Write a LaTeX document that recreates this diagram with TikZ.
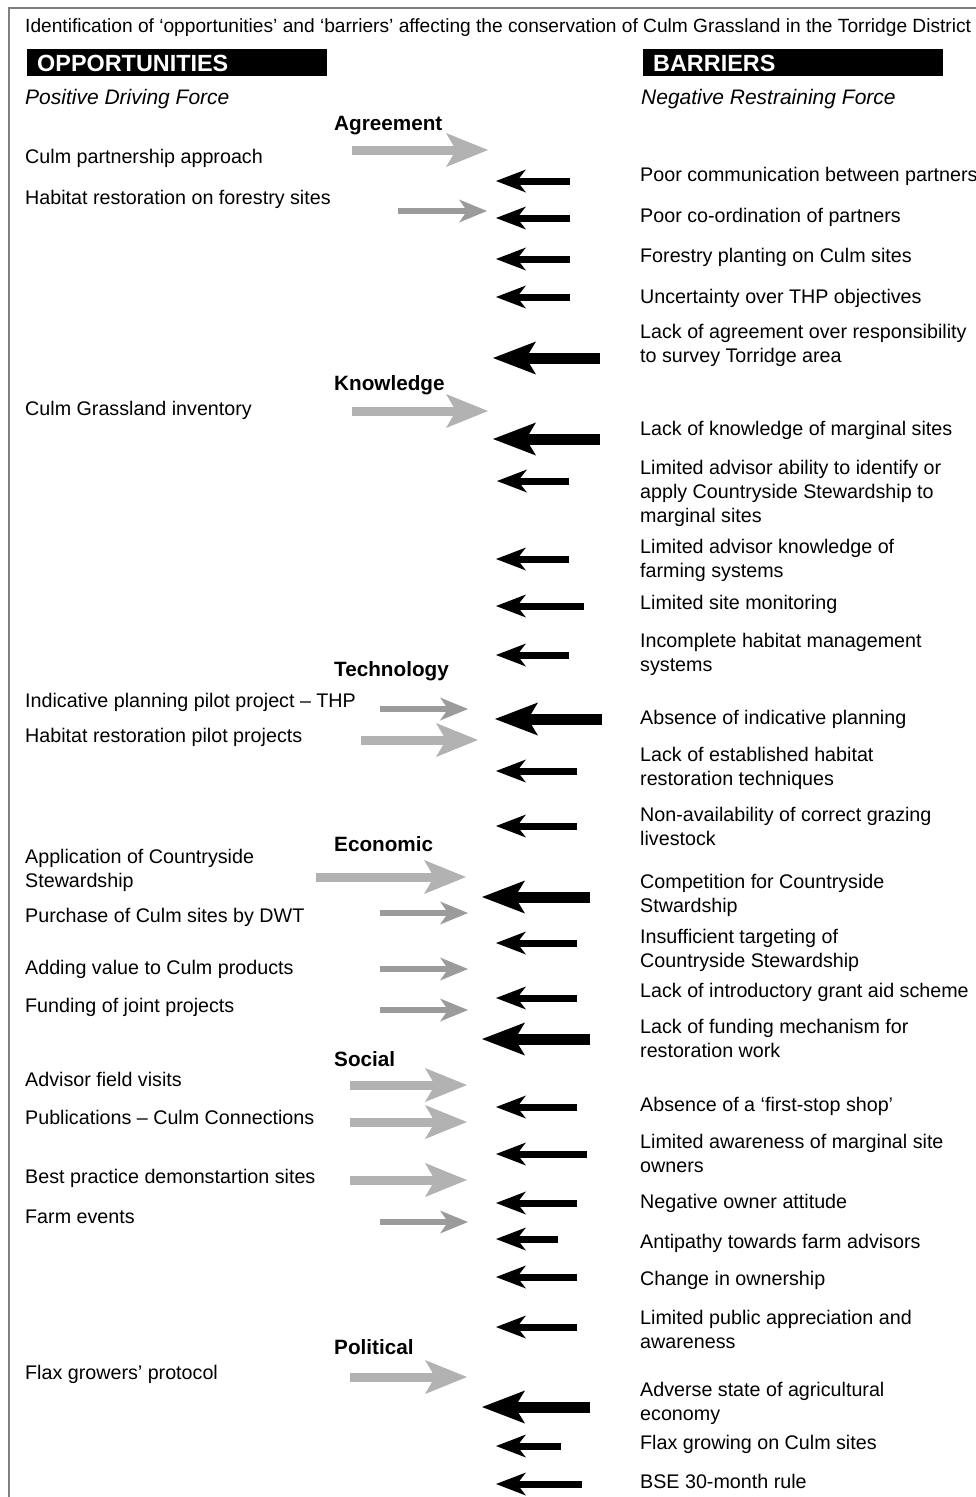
\documentclass[tikz,border=0pt]{standalone}
\usepackage{fontspec}
\setmainfont{Liberation Sans}
\usetikzlibrary{arrows.meta}
\definecolor{framegrey}{RGB}{128,128,128}
\definecolor{forcelight}{RGB}{178,178,178}
\definecolor{forcemid}{RGB}{155,155,155}
\newcommand{\bodysize}{\fontsize{19.7}{24}\selectfont}
\newcommand{\titlesize}{\fontsize{19.15}{24}\selectfont}
\newcommand{\catsize}{\fontsize{20.7}{24}\selectfont\bfseries}
\newcommand{\headsize}{\fontsize{23.4}{26}\selectfont\bfseries}
\newcommand{\subsize}{\fontsize{21}{24}\selectfont\itshape}
\begin{document}
\begin{tikzpicture}[x=1pt,y=-1pt,
  % text items: coordinates give the baseline of the first line
  item/.style={anchor=north west, inner sep=0pt, align=left, font=\bodysize,
    yshift=14pt, execute at begin node={\rule{0pt}{15pt}}},
  cat/.style={anchor=base west, inner sep=0pt, font=\catsize, yshift=-1pt},
  sub/.style={anchor=base west, inner sep=0pt, font=\subsize, yshift=-1pt},
  headbox/.style={anchor=north west, fill=black, text=white, font=\headsize,
    minimum height=27pt, text width=280pt, inner xsep=10pt, inner ysep=0pt,
    text height=16.7pt, text depth=0pt, align=left},
  % force arrows
  gthick/.style={draw=forcelight, line width=9pt,
    -{Stealth[length=42pt,width=34pt,inset=10pt,line width=0pt]}},
  gthin/.style={draw=forcemid, line width=6pt,
    -{Stealth[length=28pt,width=23pt,inset=8pt,line width=0pt]}},
  bthick/.style={draw=black, line width=11pt,
    -{Stealth[length=43pt,width=33pt,inset=10pt,line width=0pt]}},
  bthin/.style={draw=black, line width=7pt,
    -{Stealth[length=30pt,width=23pt,inset=9pt,line width=0pt]}}
]
\useasboundingbox (0,0) rectangle (976,1497);

% frame
\draw[framegrey, line width=1.8pt] (980,8) -- (9,8) -- (9,1500);

% title and headings
\node[anchor=base west, inner sep=0pt, font=\titlesize, yshift=-1pt] (title) at (25,31)
  {Identification of ‘opportunities’ and ‘barriers’ affecting the conservation of Culm Grassland in the Torridge District};
\node[headbox] (opp) at (27,49) {OPPORTUNITIES};
\node[headbox] (bar) at (643,49) {BARRIERS};
\node[sub] (pos) at (25,103) {Positive Driving Force};
\node[sub] (neg) at (641,103) {Negative Restraining Force};

% categories
\node[cat] (agr) at (334,129) {Agreement};
\node[cat] (kno) at (334,389) {Knowledge};
\node[cat] (tec) at (334,675) {Technology};
\node[cat] (eco) at (334,850) {Economic};
\node[cat] (soc) at (334,1065) {Social};
\node[cat] (pol) at (334,1353) {Political};

% opportunities
\node[item] (o1) at (25,162) {Culm partnership approach};
\node[item] (o2) at (25,203) {Habitat restoration on forestry sites};
\node[item] (o3) at (25,414) {Culm Grassland inventory};
\node[item] (o4) at (25,706) {Indicative planning pilot project – THP};
\node[item] (o5) at (25,741) {Habitat restoration pilot projects};
\node[item] (o6) at (25,863) {Application of Countryside\\Stewardship};
\node[item] (o7) at (25,921) {Purchase of Culm sites by DWT};
\node[item] (o8) at (25,973) {Adding value to Culm products};
\node[item] (o9) at (25,1011) {Funding of joint projects};
\node[item] (o10) at (25,1085) {Advisor field visits};
\node[item] (o11) at (25,1123) {Publications – Culm Connections};
\node[item] (o12) at (25,1182) {Best practice demonstartion sites};
\node[item] (o13) at (25,1222) {Farm events};
\node[item] (o14) at (25,1378) {Flax growers’ protocol};

% barriers
\node[item] (b1) at (640,180) {Poor communication between partners};
\node[item] (b2) at (640,221) {Poor co-ordination of partners};
\node[item] (b3) at (640,261) {Forestry planting on Culm sites};
\node[item] (b4) at (640,302) {Uncertainty over THP objectives};
\node[item] (b5) at (640,338) {Lack of agreement over responsibility\\to survey Torridge area};
\node[item] (b6) at (640,434) {Lack of knowledge of marginal sites};
\node[item] (b7) at (640,474) {Limited advisor ability to identify or\\apply Countryside Stewardship to\\marginal sites};
\node[item] (b8) at (640,553) {Limited advisor knowledge of\\farming systems};
\node[item] (b9) at (640,608) {Limited site monitoring};
\node[item] (b10) at (640,647) {Incomplete habitat management\\systems};
\node[item] (b11) at (640,723) {Absence of indicative planning};
\node[item] (b12) at (640,761) {Lack of established habitat\\restoration techniques};
\node[item] (b13) at (640,821) {Non-availability of correct grazing\\livestock};
\node[item] (b14) at (640,888) {Competition for Countryside\\Stwardship};
\node[item] (b15) at (640,943) {Insufficient targeting of\\Countryside Stewardship};
\node[item] (b16) at (640,996) {Lack of introductory grant aid scheme};
\node[item] (b17) at (640,1033) {Lack of funding mechanism for\\restoration work};
\node[item] (b18) at (640,1110) {Absence of a ‘first-stop shop’};
\node[item] (b19) at (640,1148) {Limited awareness of marginal site\\owners};
\node[item] (b20) at (640,1207) {Negative owner attitude};
\node[item] (b21) at (640,1247) {Antipathy towards farm advisors};
\node[item] (b22) at (640,1284) {Change in ownership};
\node[item] (b23) at (640,1324) {Limited public appreciation and\\awareness};
\node[item] (b24) at (640,1396) {Adverse state of agricultural\\economy};
\node[item] (b25) at (640,1448) {Flax growing on Culm sites};
\node[item] (b26) at (640,1487) {BSE 30-month rule};

% driving forces (tail/tip/height)
\foreach \ta/\tb/\yy in {352/488/150, 352/488/411, 361/478/740, 316/466/877,
    350/467/1085, 350/467/1122, 350/467/1180, 350/467/1377}
  \draw[gthick] (\ta,\yy) -- (\tb,\yy);
\foreach \ta/\tb/\yy in {398/487/211, 380/468/709, 380/468/913, 380/468/969,
    380/468/1010, 380/468/1222}
  \draw[gthin] (\ta,\yy) -- (\tb,\yy);

% restraining forces (tail/tip/height)
\foreach \ta/\tb/\yy in {600/493/358, 600/493/439, 602/495/719, 590/482/897,
    590/482/1039, 590/482/1407}
  \draw[bthick] (\ta,\yy) -- (\tb,\yy);
\foreach \ta/\tb/\yy in {570/496/181, 570/496/218, 570/496/259, 570/496/297,
    569/497/481, 569/496/559, 584/496/606, 569/496/655, 577/496/771,
    577/496/826, 577/496/943, 577/496/998, 577/496/1107, 587/496/1154,
    577/496/1203, 558/496/1239, 577/496/1277, 577/496/1327, 561/496/1446,
    582/496/1484}
  \draw[bthin] (\ta,\yy) -- (\tb,\yy);
\end{tikzpicture}
\end{document}
